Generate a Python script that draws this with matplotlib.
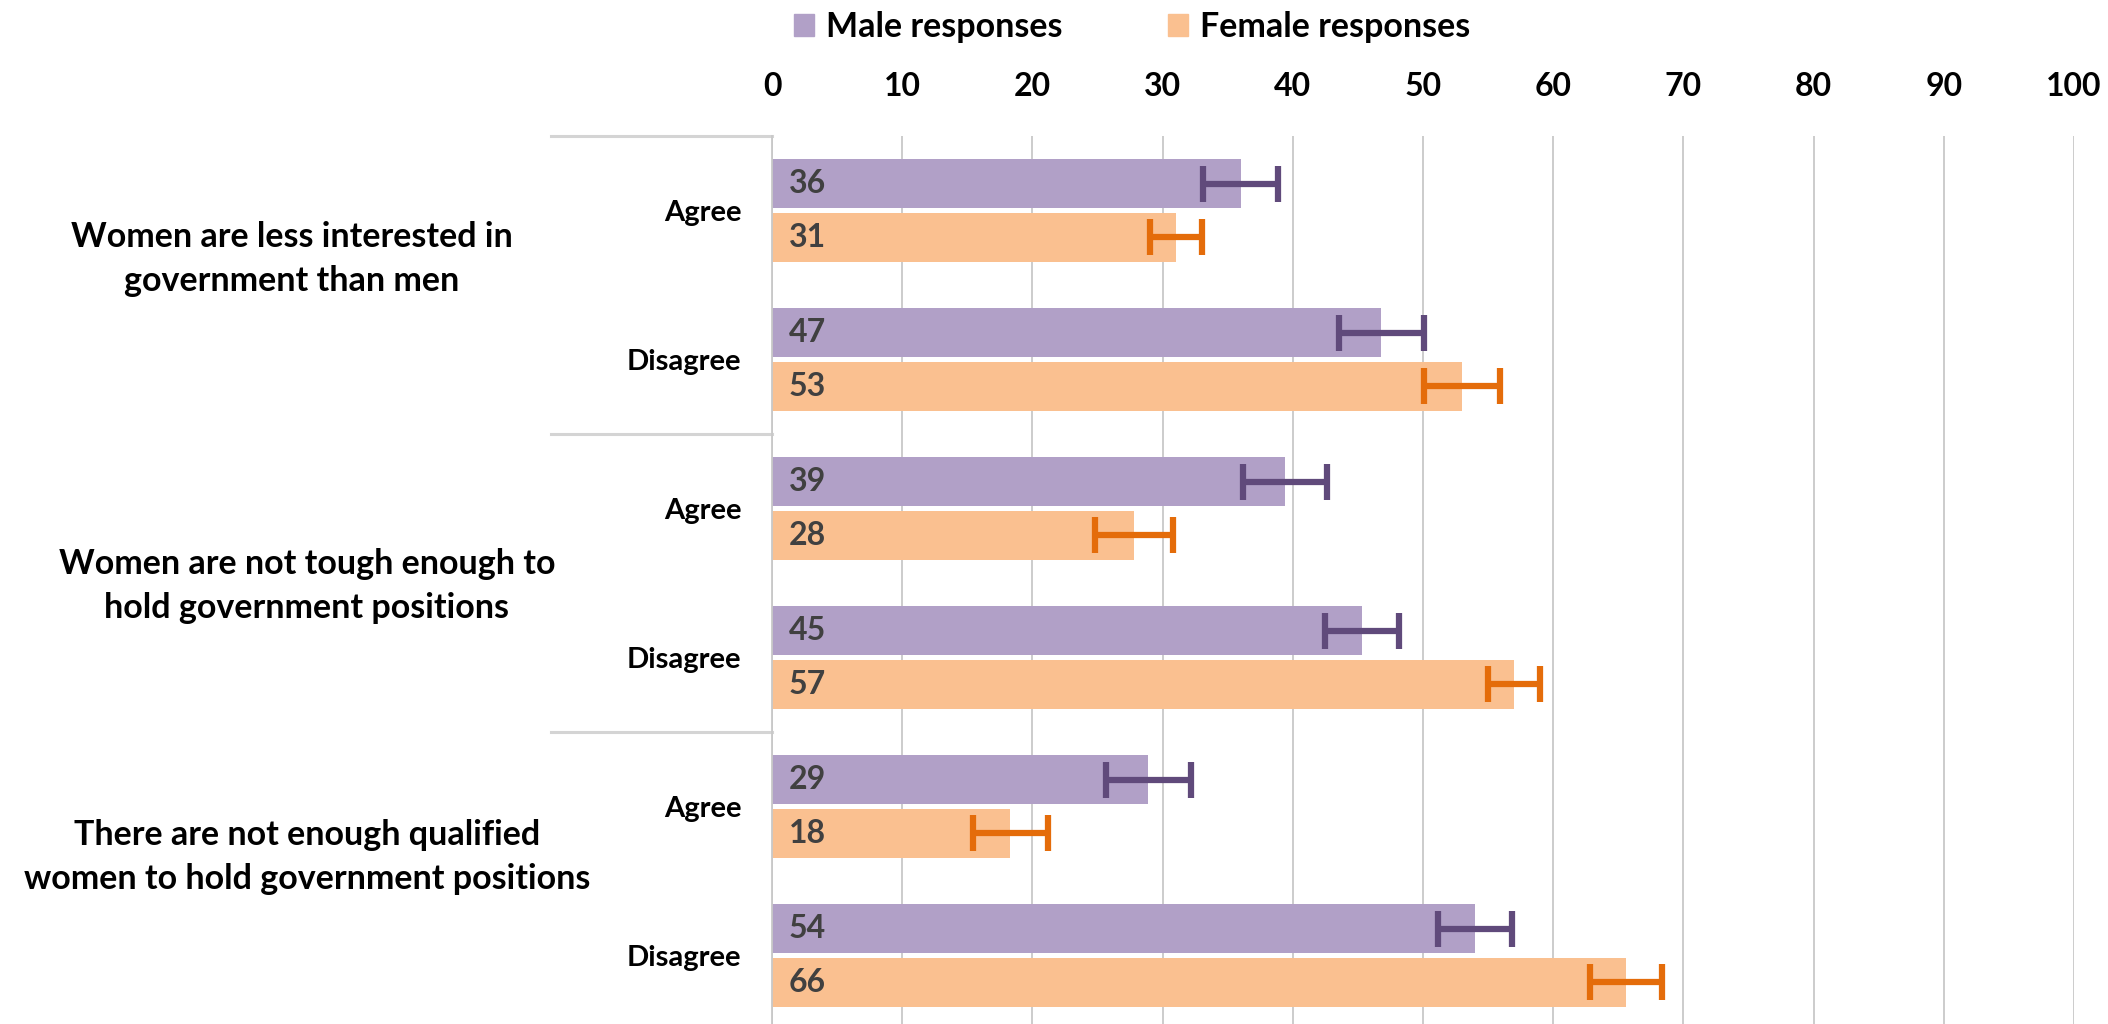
import matplotlib
matplotlib.use('Agg')
import matplotlib.pyplot as plt
import matplotlib.transforms as mtransforms
from matplotlib.patches import Patch

# data
categories = ['Agree', 'Disagree', 'Agree', 'Disagree', 'Agree', 'Disagree']
groups = ['Women are less interested in\ngovernment than men',
          'Women are not tough enough to\nhold government positions',
          'There are not enough qualified\nwomen to hold government positions']
male = [36.0, 46.8, 39.4, 45.3, 28.9, 54.0]
male_err = [2.9, 3.25, 3.25, 2.85, 3.25, 2.85]
female = [31.0, 53.0, 27.8, 57.0, 18.3, 65.6]
female_err = [2.0, 2.95, 3.0, 2.0, 2.9, 2.75]
ticks = list(range(0, 101, 10))

c_male, c_male_err = '#B1A0C7', '#604A7B'
c_female, c_female_err = '#FAC090', '#E46C0A'
grid_c = '#C8C8C8'

plt.rcParams['font.family'] = ['Lato', 'DejaVu Sans']
plt.rcParams['font.weight'] = 'bold'

W, H = 2108, 1024
fig = plt.figure(figsize=(W / 100, H / 100), dpi=100)
ax = fig.add_axes([772 / W, 1 - 1030 / H, (2074 - 772) / W, 894 / H])

pos = list(range(len(categories)))
off, bh = 0.18, 0.33
pm = [p - off for p in pos]
pf = [p + off for p in pos]
ax.barh(pm, male, height=bh, color=c_male, zorder=2)
ax.barh(pf, female, height=bh, color=c_female, zorder=2)
ax.errorbar(male, pm, xerr=male_err, fmt='none', ecolor=c_male_err,
            elinewidth=4.5, capsize=13, capthick=4.5, zorder=3)
ax.errorbar(female, pf, xerr=female_err, fmt='none', ecolor=c_female_err,
            elinewidth=4.5, capsize=13, capthick=4.5, zorder=3)

for v, p in zip(male, pm):
    ax.text(1.3, p, f"{v:.0f}", ha='left', va='center', fontsize=23,
            fontweight='bold', color='#404040', zorder=4)
for v, p in zip(female, pf):
    ax.text(1.3, p, f"{v:.0f}", ha='left', va='center', fontsize=23,
            fontweight='bold', color='#404040', zorder=4)

ax.set_xlim(0, 100)
ax.set_ylim(len(categories) - 0.5, -0.5)
ax.set_xticks(ticks)
ax.xaxis.tick_top()
ax.tick_params(axis='x', length=0, pad=25, labelsize=23)
ax.set_yticks(pos)
ax.set_yticklabels(categories)
ax.tick_params(axis='y', length=0, pad=22, labelsize=21)
ax.grid(axis='x', color=grid_c, lw=1.3, zorder=0)
for s in ['top', 'right', 'bottom']:
    ax.spines[s].set_visible(False)
ax.spines['left'].set_color(grid_c)
ax.spines['left'].set_linewidth(1.3)

# group separators to the left of the axis
tr = mtransforms.blended_transform_factory(ax.transAxes, ax.transData)
for b in [-0.5, 1.5, 3.5]:
    ax.plot([-0.17, 0], [b, b], transform=tr, color='#D4D4D4', lw=2.2,
            clip_on=False)

# group labels
gpos = [(292, 259), (307, 586), (307, 857)]
for g, (gx, gy) in zip(groups, gpos):
    fig.text(gx / W, 1 - gy / H, g, ha='center', va='center', fontsize=24.5,
             fontweight='bold', linespacing=1.45)

handles = [Patch(color=c_male, label='Male responses'),
           Patch(color=c_female, label='Female responses')]
fig.legend(handles=handles, loc='center', bbox_to_anchor=(1132 / W, 1 - 27 / H),
           ncol=2, frameon=False, fontsize=24.5, handlelength=0.6,
           handleheight=0.65, handletextpad=0.35, columnspacing=3.1)

fig.savefig('out.png', dpi=100)
